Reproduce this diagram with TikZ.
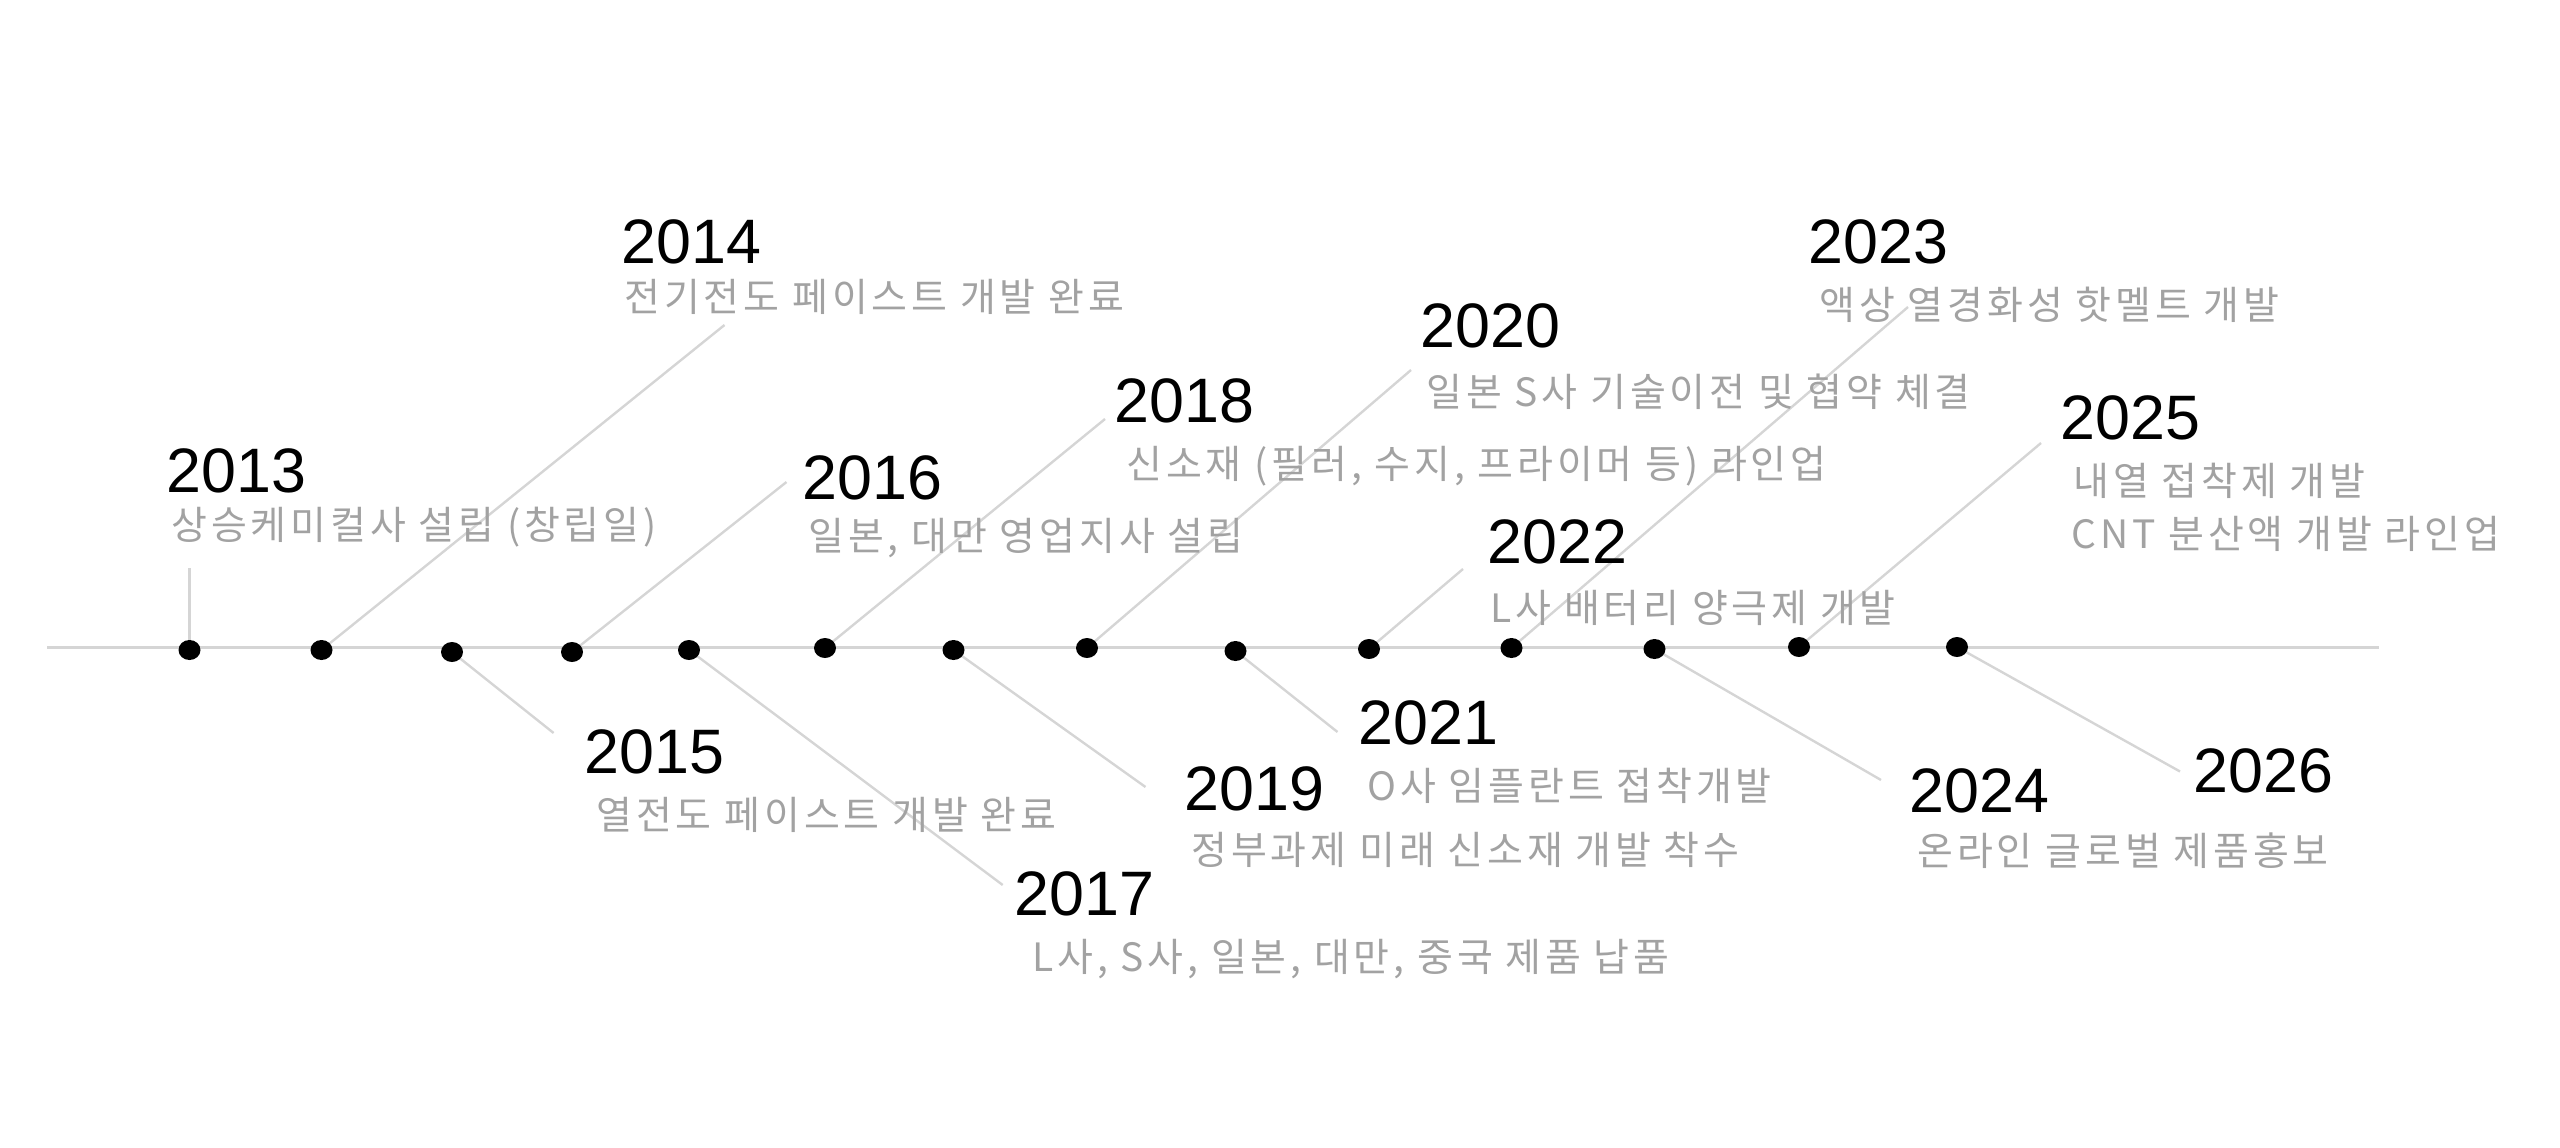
\documentclass[tikz,border=0pt]{standalone}
\usepackage{fontspec}
\setmainfont{Liberation Sans}
\newfontfamily\kr[LetterSpace=10]{Noto Sans CJK KR}
\usetikzlibrary{shapes.geometric,backgrounds}
\definecolor{linegray}{RGB}{213,213,213}
\definecolor{descgray}{RGB}{162,162,162}
\tikzset{
  yr/.style={anchor=base west,inner sep=0pt,font=\fontsize{31.4pt}{36pt}\selectfont,text=black},
  desc/.style={anchor=base west,inner sep=0pt,font=\kr\fontsize{19.5pt}{26.5pt}\selectfont,text=descgray},
  dotmark/.style={ellipse,fill=black,inner sep=0pt,minimum width=11pt,minimum height=10pt},
  tline/.style={draw=linegray,line width=1.5pt},
  conn/.style={draw=linegray,line width=1.2pt}
}
\begin{document}
\begin{tikzpicture}[x=0.5pt,y=-0.5pt]
\useasboundingbox (0,0) rectangle (2560,1147);
% dots
\node[dotmark] (d1) at (189.5,650) {};
\node[dotmark] (d2) at (321.5,650) {};
\node[dotmark] (d3) at (452,652) {};
\node[dotmark] (d4) at (572,652) {};
\node[dotmark] (d5) at (689,650) {};
\node[dotmark] (d6) at (825,648) {};
\node[dotmark] (d7) at (953.5,650) {};
\node[dotmark] (d8) at (1087,648) {};
\node[dotmark] (d9) at (1235.5,651) {};
\node[dotmark] (d10) at (1369,649) {};
\node[dotmark] (d11) at (1511.5,648) {};
\node[dotmark] (d12) at (1654.5,649) {};
\node[dotmark] (d13) at (1799,647) {};
\node[dotmark] (d14) at (1957,647) {};
% connector ends
\coordinate (L0) at (47,647);
\coordinate (L1) at (2379,647);
\coordinate (c1) at (189.5,568);
\coordinate (c2) at (724.5,325);
\coordinate (c3) at (553.6,733);
\coordinate (c4) at (786.5,482);
\coordinate (c5) at (1002.7,885);
\coordinate (c6) at (1105,419);
\coordinate (c7) at (1145.5,787);
\coordinate (c8) at (1411,370);
\coordinate (c9) at (1337.5,732);
\coordinate (c10) at (1463,569);
\coordinate (c11) at (1908,307);
\coordinate (c12) at (1881,780);
\coordinate (c13) at (2041,443);
\coordinate (c14) at (2180,771.5);
\begin{scope}[on background layer]
\draw[tline] (L0) -- (L1);
\foreach \i in {1,...,14} { \draw[conn] (d\i.center) -- (c\i); }
\end{scope}
% years
\node[yr] (y13) at (166,492) {2013};
\node[yr] (y14) at (621,263) {2014};
\node[yr] (y15) at (584,773) {2015};
\node[yr] (y16) at (802,499) {2016};
\node[yr] (y17) at (1014,915) {2017};
\node[yr] (y18) at (1114,422) {2018};
\node[yr] (y19) at (1184,810) {2019};
\node[yr] (y20) at (1420,347) {2020};
\node[yr] (y21) at (1358,744) {2021};
\node[yr] (y22) at (1487,563) {2022};
\node[yr] (y23) at (1808,263) {2023};
\node[yr] (y24) at (1909,812) {2024};
\node[yr] (y25) at (2060,439) {2025};
\node[yr] (y26) at (2193,792) {2026};
% descriptions
\node[desc] (t13) at (171,539) {상승케미컬사 설립 (창립일)};
\node[desc] (t14) at (624,311) {전기전도 페이스트 개발 완료};
\node[desc] (t15) at (596,829) {열전도 페이스트 개발 완료};
\node[desc] (t16) at (808,550) {일본, 대만 영업지사 설립};
\node[desc] (t17) at (1032,971) {L사, S사, 일본, 대만, 중국 제품 납품};
\node[desc] (t18) at (1126,478) {신소재 (필러, 수지, 프라이머 등) 라인업};
\node[desc] (t19) at (1191,864) {정부과제 미래 신소재 개발 착수};
\node[desc] (t20) at (1426,406) {일본 S사 기술이전 및 협약 체결};
\node[desc] (t21) at (1367,800) {O사 임플란트 접착개발};
\node[desc] (t22) at (1490,622) {L사 배터리 양극제 개발};
\node[desc] (t23) at (1819,319) {액상 열경화성 핫멜트 개발};
\node[desc] (t24) at (1917,865) {온라인 글로벌 제품홍보};
\node[desc] (t25a) at (2073,495) {내열 접착제 개발};
\node[desc] (t25b) at (2071,548) {CNT 분산액 개발 라인업};
\end{tikzpicture}
\end{document}
